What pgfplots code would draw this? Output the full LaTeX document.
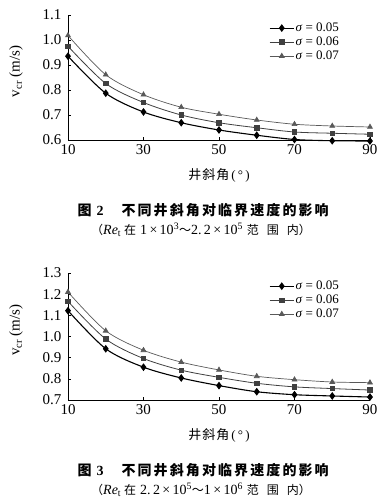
\documentclass[border=0pt]{standalone}
\usepackage{pgfplots}
\pgfplotsset{compat=1.18}
\usepackage{fontspec}
\setmainfont{Liberation Serif}
\newfontfamily\cjk{Noto Sans CJK SC}
\newfontfamily\cjkcap[LetterSpace=15]{Noto Sans CJK SC}

\pgfplotstableread{
x s05 s06 s07
10 0.935 0.975 1.018
20 0.787 0.826 0.861
30 0.712 0.750 0.781
40 0.669 0.700 0.731
50 0.640 0.669 0.703
60 0.619 0.649 0.680
70 0.602 0.632 0.663
80 0.597 0.627 0.656
90 0.596 0.623 0.652
}\dataA
\pgfplotstableread{
x s05 s06 s07
10 1.122 1.166 1.210
20 0.942 0.988 1.027
30 0.855 0.896 0.935
40 0.804 0.841 0.879
50 0.768 0.807 0.842
60 0.739 0.779 0.812
70 0.725 0.762 0.796
80 0.719 0.754 0.785
90 0.714 0.747 0.782
}\dataB

\pgfplotsset{
  mystyle/.style={
    scale only axis, width=302pt,
    axis lines=left, axis line style={-, line width=0.9pt},
    xmin=10, xmax=90, xtick={10,30,50,70,90},
    clip=false,
    tick align=inside, major tick length=3pt,
    tick style={line width=0.6pt, black},
    ticklabel style={font=\fontsize{15}{17}\selectfont},
    yticklabel style={xshift=-3pt},
    xticklabel style={yshift=-1pt},
    /pgf/number format/assume math mode=true,
    yticklabel style={/pgf/number format/.cd, fixed, fixed zerofill, precision=1},
    xlabel={{\cjk 井\hspace{1pt}斜\hspace{1pt}角}\hspace{2pt}(\,°\,)},
    ylabel={v\textsubscript{cr} (m/s)},
    every axis x label/.style={at={(axis description cs:0.5,0)}, anchor=center, yshift=-35pt, font=\fontsize{13}{15}\selectfont},
    every axis y label/.style={at={(axis description cs:-0.172,0.55)}, rotate=90, anchor=center, font=\fontsize{15}{17}\selectfont},
    legend style={draw=none, fill=none, font=\fontsize{13}{15}\selectfont,
      at={(axis description cs:0.655,0.965)}, anchor=north west,
      nodes={inner sep=1pt, text height=8.5pt, text depth=2.5pt}, row sep=1pt},
    legend cell align=left,
    legend image code/.code={\draw[mark repeat=2,mark phase=2] plot coordinates {(0cm,0cm)(0.43cm,0cm)(0.86cm,0cm)};},
  },
  s5/.style={black, line width=1.1pt, smooth, mark=diamond*, mark size=3pt, mark options={solid}},
  s6/.style={black!75, line width=0.8pt, smooth, mark=square*, mark size=2.2pt},
  s7/.style={black!65, line width=0.7pt, smooth, mark=triangle*, mark size=2.8pt},
}
\newcommand{\cj}[1]{{\fontsize{12}{14}\cjk #1}}

\begin{document}
\begin{tikzpicture}[x=1pt,y=1pt]
\path (0,0) rectangle (380,503);

\begin{axis}[mystyle, height=125pt, at={(68pt,363pt)}, anchor=south west,
  ymin=0.6, ymax=1.1, ytick={0.6,0.7,0.8,0.9,1.0,1.1}]
\addplot[s5] table[x=x,y=s05]{\dataA};
\addlegendentry{\textit{σ} = 0.05}
\addplot[s6] table[x=x,y=s06]{\dataA};
\addlegendentry{\textit{σ} = 0.06}
\addplot[s7] table[x=x,y=s07]{\dataA};
\addlegendentry{\textit{σ} = 0.07}
\end{axis}

\node[font=\fontsize{14}{16}\selectfont\bfseries, anchor=west] at (74,293) {{\cjk 图}\hspace{5pt}2\hspace{18pt}{\cjkcap 不同井斜角对临界速度的影响}};
\node[font=\fontsize{14}{16}\selectfont, anchor=west, inner sep=0pt] at (91,273) {\cj{（}\textit{Re}\textsubscript{t}\hspace{3pt}\cj{在}\hspace{4pt}1\,×\,10\textsuperscript{3}\cj{～}2.\,2\,×\,10\textsuperscript{5}\hspace{4pt}\cj{范\hspace{8pt}围\hspace{8pt}内）}};

\begin{axis}[mystyle, height=127pt, at={(68pt,103pt)}, anchor=south west,
  ymin=0.7, ymax=1.3, ytick={0.7,0.8,0.9,1.0,1.1,1.2,1.3}]
\addplot[s5] table[x=x,y=s05]{\dataB};
\addlegendentry{\textit{σ} = 0.05}
\addplot[s6] table[x=x,y=s06]{\dataB};
\addlegendentry{\textit{σ} = 0.06}
\addplot[s7] table[x=x,y=s07]{\dataB};
\addlegendentry{\textit{σ} = 0.07}
\end{axis}

\node[font=\fontsize{14}{16}\selectfont\bfseries, anchor=west] at (74,33) {{\cjk 图}\hspace{5pt}3\hspace{18pt}{\cjkcap 不同井斜角对临界速度的影响}};
\node[font=\fontsize{14}{16}\selectfont, anchor=west, inner sep=0pt] at (91,13) {\cj{（}\textit{Re}\textsubscript{t}\hspace{3pt}\cj{在}\hspace{4pt}2.\,2\,×\,10\textsuperscript{5}\cj{～}1\,×\,10\textsuperscript{6}\hspace{4pt}\cj{范\hspace{8pt}围\hspace{8pt}内）}};
\end{tikzpicture}
\end{document}
